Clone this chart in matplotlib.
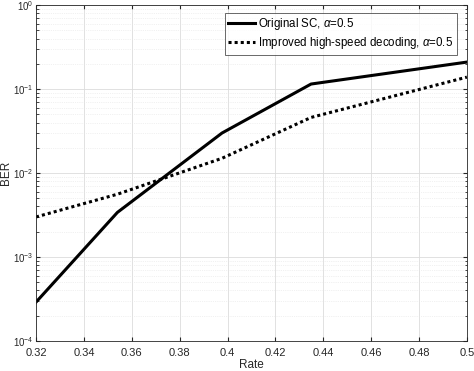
import matplotlib.pyplot as plt
from matplotlib.ticker import LogLocator, NullFormatter

plt.rcParams['font.family'] = ['Liberation Sans', 'DejaVu Sans']
plt.rcParams['mathtext.fontset'] = 'custom'
plt.rcParams['mathtext.rm'] = 'Liberation Sans'
plt.rcParams['mathtext.it'] = 'Liberation Sans:italic'

# --- data ---
rate = [0.32, 0.354, 0.3977, 0.4349, 0.50]
ber_sc = [2.9e-4, 3.4e-3, 3.0e-2, 1.15e-1, 2.1e-1]
ber_fast = [3.0e-3, 5.6e-3, 1.5e-2, 4.6e-2, 1.39e-1]

xticks = [0.32, 0.34, 0.36, 0.38, 0.40, 0.42, 0.44, 0.46, 0.48, 0.50]
xticklabels = ['0.32', '0.34', '0.36', '0.38', '0.4', '0.42', '0.44', '0.46', '0.48', '0.5']

# --- plot ---
fig = plt.figure(figsize=(4.74, 3.71), dpi=100)
ax = fig.add_axes([0.076, 0.081, 0.909, 0.905])

ax.semilogy(rate, ber_sc, color='black', linewidth=2.2, label=r'Original SC, $\alpha$=0.5')
ax.semilogy(rate, ber_fast, color='black', linewidth=2.2, linestyle=(0, (1, 1)),
            label=r'Improved high-speed decoding, $\alpha$=0.5')

ax.set_xlim(0.32, 0.50)
ax.set_ylim(1e-4, 1)
ax.set_xticks(xticks)
ax.set_xticklabels(xticklabels)
ax.yaxis.set_minor_locator(LogLocator(base=10, subs=range(2, 10)))
ax.yaxis.set_minor_formatter(NullFormatter())

ax.grid(True, which='major', color='#dcdcdc', linewidth=0.6)
ax.grid(True, which='minor', axis='y', color='#e4e4e4', linewidth=0.5, linestyle=':')
ax.tick_params(which='both', direction='in', top=True, right=True,
               labelsize=8, colors='#262626', length=3)
ax.tick_params(axis='x', pad=5)
ax.tick_params(axis='y', labelsize=7, pad=2)
ax.tick_params(which='minor', length=1.8)
for s in ax.spines.values():
    s.set_color('#262626')
    s.set_linewidth(0.6)

ax.set_xlabel('Rate', fontsize=8.5, color='#262626', labelpad=1)
ax.set_ylabel('BER', fontsize=8.5, color='#262626')
ax.yaxis.set_label_coords(-0.056, 0.5)

leg = ax.legend(loc='upper right', bbox_to_anchor=(0.977, 0.977), fontsize=8.3,
                frameon=True, fancybox=False, edgecolor='#262626',
                handlelength=2.3, borderpad=0.3, labelspacing=0.25, handletextpad=0.3,
                borderaxespad=0)
leg.get_frame().set_linewidth(0.6)

fig.savefig('out.png', dpi=100)
